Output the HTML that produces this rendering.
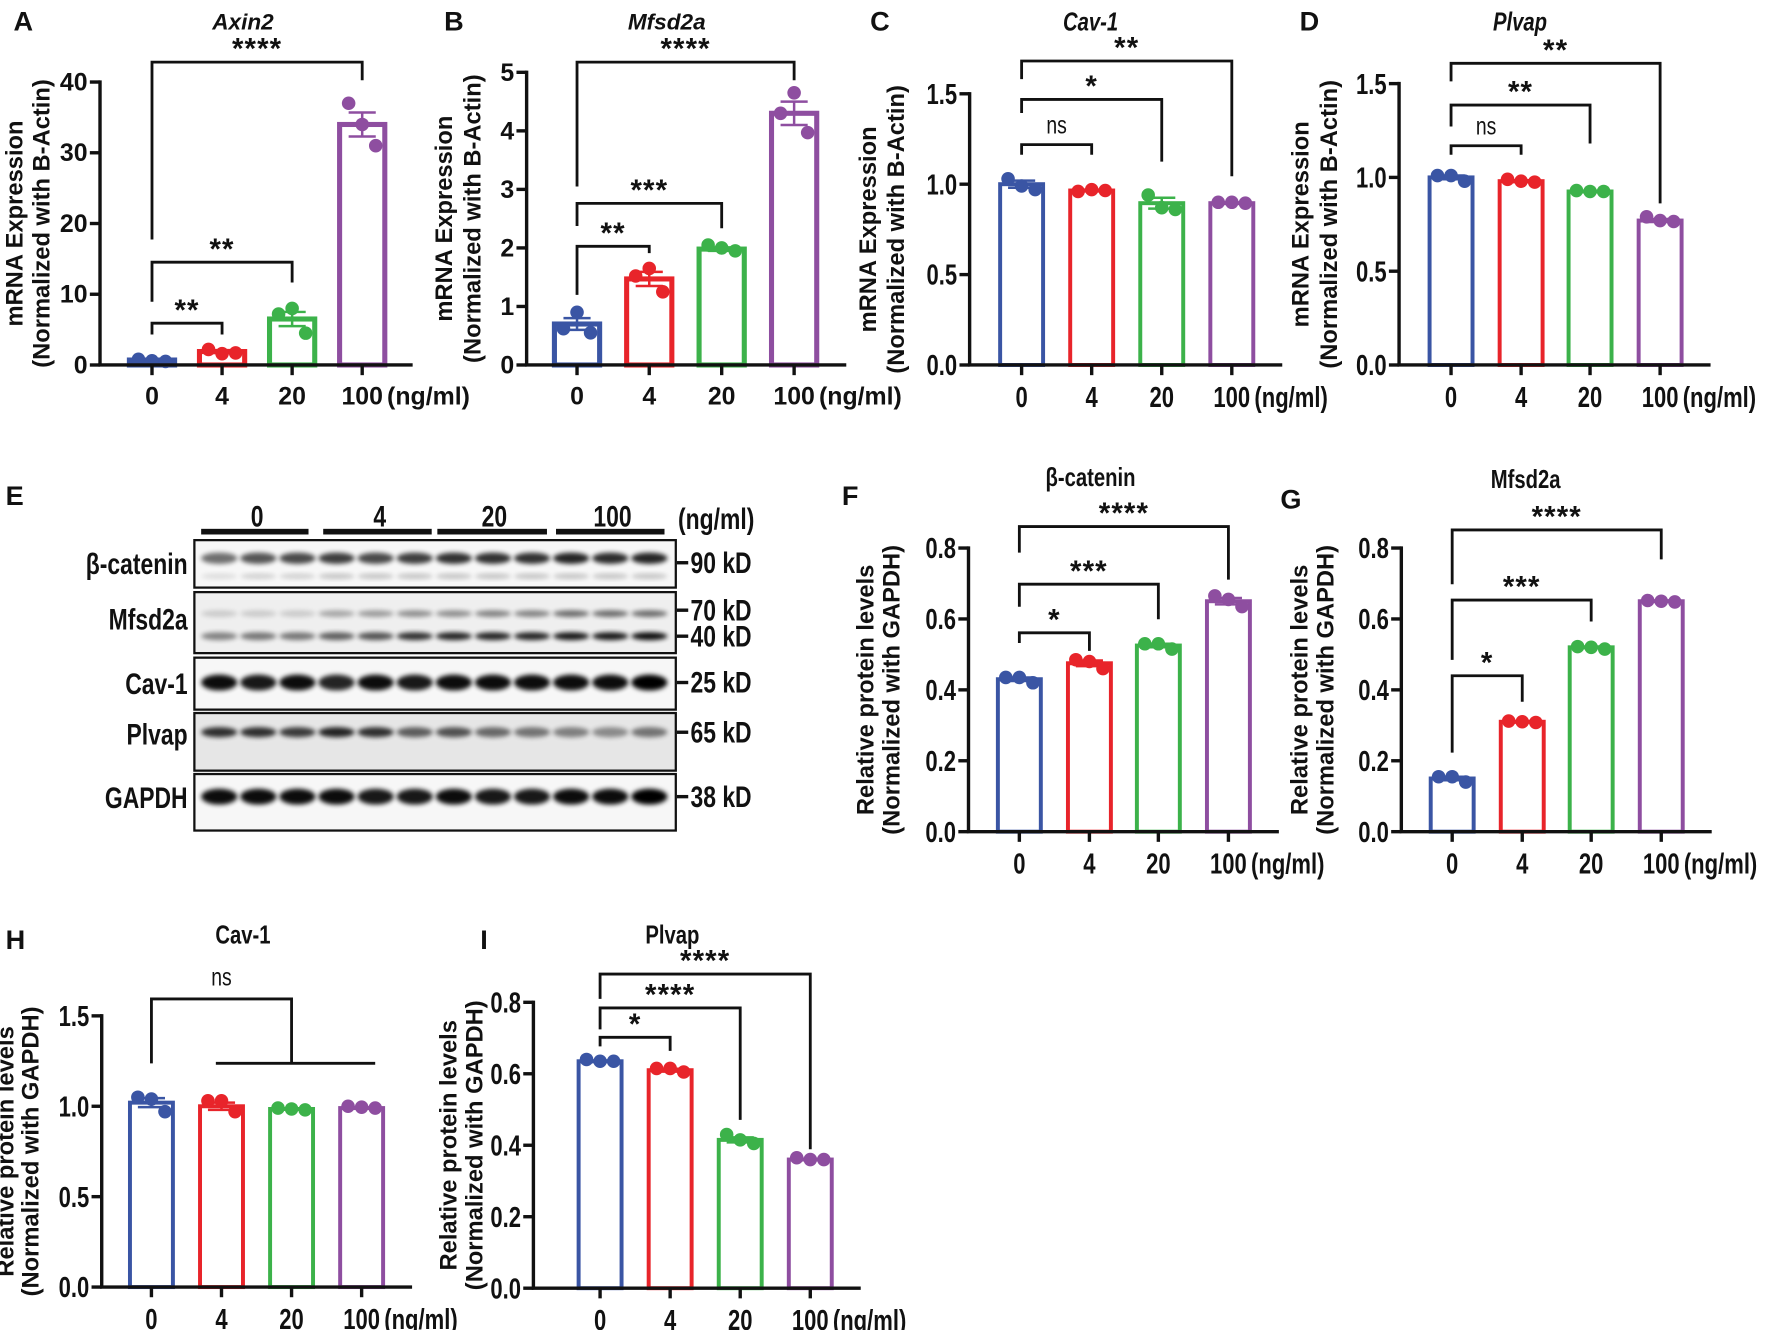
<!DOCTYPE html>
<html><head><meta charset="utf-8"><style>
html,body{margin:0;padding:0;background:#fff;}
svg{display:block;}
text{font-family:"Liberation Sans",Arial,sans-serif;fill:#111;}
</style></head><body>
<svg id="fig" xmlns="http://www.w3.org/2000/svg" width="1772" height="1330" viewBox="0 0 1568 1177" preserveAspectRatio="none">
<defs><filter id="blur" x="-20%" y="-50%" width="140%" height="200%"><feGaussianBlur stdDeviation="2.2"/></filter></defs>
</svg>
<script>
const NS='http://www.w3.org/2000/svg';
const svg=document.getElementById('fig');
const catLabels=['0','4','20','100'];
const colors=['#3a55a4','#e8242a','#3cb24a','#8e4ea0'];
// Panel A (Axin2)
const aMeans=[0.7,1.9,6.5,34];
const aPts=[[0.8,0.6,0.5],[2.2,1.6,1.7],[7.2,8,4.5],[37,34,31]];
const aErr=[0.1,0.2,1.0,1.7];
const aTicks=[0,10,20,30,40];
// Panel B (Mfsd2a mRNA)
const bMeans=[0.7,1.47,1.98,4.3];
const bPts=[[0.62,0.9,0.55],[1.52,1.65,1.25],[2.05,2.0,1.95],[4.3,4.65,3.97]];
const bErr=[0.1,0.12,0.03,0.2];
const bTicks=[0,1,2,3,4,5];
// Panel C (Cav-1 mRNA)
const cMeans=[1.0,0.965,0.895,0.895];
const cPts=[[1.03,0.99,0.97],[0.96,0.97,0.965],[0.94,0.87,0.86],[0.9,0.9,0.895]];
const cErr=[0.02,0.005,0.03,0.003];
const cTicks=[0,0.5,1.0,1.5];
// Panel D (Plvap mRNA)
const dMeans=[1.0,0.98,0.925,0.77];
const dPts=[[1.01,1.01,0.98],[0.99,0.98,0.975],[0.93,0.925,0.925],[0.79,0.77,0.765]];
const dErr=[0.01,0.005,0.003,0.008];
const dTicks=[0,0.5,1.0,1.5];
// Panel F (beta-catenin protein)
const fMeans=[0.43,0.475,0.525,0.65];
const fPts=[[0.435,0.435,0.42],[0.485,0.48,0.46],[0.53,0.53,0.515],[0.665,0.655,0.635]];
const fErr=[0.005,0.008,0.005,0.009];
const fTicks=[0,0.2,0.4,0.6,0.8];
// Panel G (Mfsd2a protein)
const gMeans=[0.15,0.31,0.52,0.65];
const gPts=[[0.155,0.155,0.14],[0.312,0.31,0.308],[0.522,0.52,0.515],[0.652,0.65,0.648]];
const gErr=[0.005,0.002,0.002,0.002];
const gTicks=[0,0.2,0.4,0.6,0.8];
// Panel H (Cav-1 protein)
const hMeans=[1.02,1.0,0.985,0.99];
const hPts=[[1.05,1.04,0.97],[1.03,1.03,0.97],[0.99,0.985,0.98],[1.0,0.995,0.99]];
const hErr=[0.025,0.02,0.004,0.003];
const hTicks=[0,0.5,1.0,1.5];
// Panel I (Plvap protein)
const iMeans=[0.635,0.61,0.415,0.36];
const iPts=[[0.64,0.635,0.635],[0.615,0.615,0.605],[0.43,0.415,0.405],[0.365,0.36,0.36]];
const iErr=[0.002,0.004,0.007,0.002];
const iTicks=[0,0.2,0.4,0.6,0.8];

function el(tag,attrs,parent){const e=document.createElementNS(NS,tag);for(const k in attrs)e.setAttribute(k,attrs[k]);(parent||svg).appendChild(e);return e;}
function txt(s,attrs,parent){const t=el('text',attrs,parent);t.textContent=s;return t;}
function narrow(t,x){t.setAttribute('transform','translate('+x+' 0) scale(0.78 1) translate('+(-x)+' 0)');}

const panels=[
 {id:'a',letter:'A',lx:12,ly:27,title:'Axin2',tx:215,ty:26,italic:true,ax:88.5,y0:323,yTop:72.6,tickLabels:['0','10','20','30','40'],ticks:aTicks,means:aMeans,pts:aPts,err:aErr,cats:[134.5,196.5,258.5,320.5],bw:40,sw:4.5,ylab:['mRNA Expression','(Normalized with B-Actin)'],ylx:[20,44],narrow:false,
  br:[[0,1,286,296,296,'**'],[0,2,232,267,250,'**'],[0,3,55,212,71,'****']]},
 {id:'b',letter:'B',lx:393,ly:27,title:'Mfsd2a',tx:590,ty:26,italic:true,ax:466,y0:323,yTop:64,tickLabels:['0','1','2','3','4','5'],ticks:bTicks,means:bMeans,pts:bPts,err:bErr,cats:[510.6,574.5,638.6,702.7],bw:40,sw:4.5,ylab:['mRNA Expression','(Normalized with B-Actin)'],ylx:[400,425],narrow:false,
  br:[[0,1,218,261,224,'**'],[0,2,180,200,202,'***'],[0,3,55,165,71,'****']]},
 {id:'c',letter:'C',lx:770,ly:27,title:'Cav-1',tx:965,ty:26,italic:true,ax:858,y0:323,yTop:83,tickLabels:['0.0','0.5','1.0','1.5'],ticks:cTicks,means:cMeans,pts:cPts,err:cErr,cats:[904,966,1028,1090],bw:38,sw:3.5,ylab:['mRNA Expression','(Normalized with B-Actin)'],ylx:[775,800],narrow:true,
  br:[[0,3,54,70,156,'**'],[0,2,88,100,143,'*'],[0,1,128,137,137,'ns']]},
 {id:'d',letter:'D',lx:1150,ly:27,title:'Plvap',tx:1345,ty:26,italic:true,ax:1238,y0:323,yTop:74,tickLabels:['0.0','0.5','1.0','1.5'],ticks:dTicks,means:dMeans,pts:dPts,err:dErr,cats:[1284,1346,1407,1469],bw:38,sw:3.5,ylab:['mRNA Expression','(Normalized with B-Actin)'],ylx:[1158,1183],narrow:true,
  br:[[0,3,56,72,180,'**'],[0,2,93,112,127,'**'],[0,1,129,137,137,'ns']]},
 {id:'f',letter:'F',lx:745,ly:447,title:'β-catenin',tx:965,ty:429,italic:false,ax:857,y0:736,yTop:485,tickLabels:['0.0','0.2','0.4','0.6','0.8'],ticks:fTicks,means:fMeans,pts:fPts,err:fErr,cats:[902,964,1025,1087],bw:38,sw:3.5,ylab:['Relative protein levels','(Normalized with GAPDH)'],ylx:[773,796],narrow:true,
  br:[[0,3,466,489,513,'****'],[0,2,517,537,548,'***'],[0,1,560,569,576,'*']]},
 {id:'g',letter:'G',lx:1133,ly:450,title:'Mfsd2a',tx:1350,ty:431,italic:false,ax:1240,y0:736,yTop:485,tickLabels:['0.0','0.2','0.4','0.6','0.8'],ticks:gTicks,means:gMeans,pts:gPts,err:gErr,cats:[1285,1347,1408,1470],bw:38,sw:3.5,ylab:['Relative protein levels','(Normalized with GAPDH)'],ylx:[1157,1180],narrow:true,
  br:[[0,3,469,517,495,'****'],[0,2,531,584,550,'***'],[0,1,598,666,621,'*']]},
 {id:'h',letter:'H',lx:5,ly:840,title:'Cav-1',tx:215,ty:834,italic:false,ax:90,y0:1139,yTop:899,tickLabels:['0.0','0.5','1.0','1.5'],ticks:hTicks,means:hMeans,pts:hPts,err:hErr,cats:[134,196,258,320],bw:38,sw:3.5,ylab:['Relative protein levels','(Normalized with GAPDH)'],ylx:[12,34],narrow:true,
  br:[]},
 {id:'i',letter:'I',lx:425,ly:840,title:'Plvap',tx:595,ty:834,italic:false,ax:472,y0:1140,yTop:887,tickLabels:['0.0','0.2','0.4','0.6','0.8'],ticks:iTicks,means:iMeans,pts:iPts,err:iErr,cats:[531,593,655,717],bw:38,sw:3.5,ylab:['Relative protein levels','(Normalized with GAPDH)'],ylx:[404,427],narrow:true,
  br:[[0,3,862,884,1017,'****'],[0,2,892,911,991,'****'],[0,1,918,926,930,'*']]}
];

panels.forEach(p=>{
  const g=el('g',{});
  
  
  const maxV=p.ticks[p.ticks.length-1];
  const y=v=>p.y0-(v/maxV)*(p.y0-p.yTop);
  const fs=p.narrow?25:22;
  const lt=txt(p.letter,{x:p.lx,y:p.ly,'font-size':24,'font-weight':'bold'},g);
  
  
  const tt=txt(p.title,{x:p.tx,y:p.ty+(p.narrow?1:0),'font-size':p.narrow?23:20,'font-weight':'bold','font-style':p.italic?'italic':'normal','text-anchor':'middle'},g);
  
  
  if(p.narrow) narrow(tt,p.tx);
  const yc=(p.y0+p.yTop)/2;
  p.ylab.forEach((s,k)=>{
    const t=txt(s,{x:p.ylx[k],y:yc,'font-size':p.narrow?21:21,'font-weight':'bold','text-anchor':'middle',transform:'rotate(-90 '+p.ylx[k]+' '+yc+')'},g);
    
    
  });
  p.means.forEach((m,i)=>{
    const cx=p.cats[i];
    const r=el('rect',{x:cx-p.bw/2,y:y(m),width:p.bw,height:p.y0-y(m),fill:'#fff',stroke:colors[i],'stroke-width':p.sw},g);
    
    
  });
  p.means.forEach((m,i)=>{
    const cx=p.cats[i];
    const e=el('path',{d:`M${cx},${y(m-p.err[i])}V${y(m+p.err[i])}M${cx-12},${y(m+p.err[i])}H${cx+12}M${cx-12},${y(m-p.err[i])}H${cx+12}`,stroke:colors[i],'stroke-width':2.2,fill:'none'},g);
    
    
  });
  p.pts.forEach((arr,i)=>{
    arr.forEach((v,k)=>{
      const c=el('circle',{cx:p.cats[i]+(k-1)*12,cy:y(v),r:6,fill:colors[i]},g);
      
      
    });
  });
  const ya=el('line',{x1:p.ax,y1:p.yTop-1.5,x2:p.ax,y2:p.y0,stroke:'#111','stroke-width':3},g);
  
  
  const xEnd=p.cats[3]+(p.cats[3]-p.cats[2])*0.72;
  const xa=el('line',{x1:p.ax-1.5,y1:p.y0,x2:xEnd,y2:p.y0,stroke:'#111','stroke-width':3},g);
  
  
  p.ticks.forEach((v,k)=>{
    el('line',{x1:p.ax-9,y1:y(v),x2:p.ax,y2:y(v),stroke:'#111','stroke-width':3},g);
    const t=txt(p.tickLabels[k],{x:p.ax-11,y:y(v)+(p.narrow?9:7.5),'font-size':fs,'font-weight':'bold','text-anchor':'end'},g);
    
    
    if(p.narrow) narrow(t,p.ax-11);
  });
  p.cats.forEach((cx,i)=>{
    el('line',{x1:cx,y1:p.y0,x2:cx,y2:p.y0+9,stroke:'#111','stroke-width':3},g);
    const t=txt(catLabels[i],{x:cx,y:p.y0+(p.narrow?37:35),'font-size':fs,'font-weight':'bold','text-anchor':'middle'},g);
    
    
    if(p.narrow) narrow(t,cx);
  });
  const ux=p.cats[3]+(p.narrow?20:22);
  const u=txt('(ng/ml)',{x:ux,y:p.y0+(p.narrow?37:35),'font-size':fs,'font-weight':'bold'},g);
  
  
  if(p.narrow) narrow(u,ux);
  p.br.forEach(b=>{
    const x1=p.cats[b[0]],x2=p.cats[b[1]];
    const pth=el('path',{d:`M${x1},${b[3]}V${b[2]}H${x2}V${b[4]}`,stroke:'#111','stroke-width':2.5,fill:'none'},g);
    
    
    const ns=b[5]==='ns';
    const t=txt(b[5],{x:(x1+x2)/2,y:ns?b[2]-10:b[2]-3,'font-size':ns?22:26,'font-weight':ns?'normal':'bold','text-anchor':'middle','letter-spacing':ns?0:1},g);
    
    
    if(ns) narrow(t,(x1+x2)/2);
  });
  if(p.id==='h'){
    const c=p.cats;
    const pth=el('path',{d:`M${c[0]},${941}V884H${c[2]}V941M${c[1]-5},941H${c[3]+12}`,stroke:'#111','stroke-width':2.5,fill:'none'},g);
    
    
    const t=txt('ns',{x:(c[0]+c[2])/2,y:872,'font-size':22,'text-anchor':'middle'},g);
    
    
    narrow(t,(c[0]+c[2])/2);
  }
});

// Western blot panel E
const wbRows=['β-catenin','Mfsd2a','Cav-1','Plvap','GAPDH'];
const wbBoxes=[[478,520],[524,578],[582,628],[631,682],[685,735]];
const wbLabelY=[508,557,614,659,715];
const kdLabels=['90 kD','70 kD','40 kD','25 kD','65 kD','38 kD'];
const kdY=[498,540,563,604,648,705];
const groupLabels=['0','4','20','100'];
const groupX=[[178,273],[286,382],[387,484],[492,588]];
const laneBands=[
 [494,[0.55,0.65,0.7,0.75,0.7,0.75,0.8,0.8,0.8,0.85,0.82,0.85],8],
 [510,[0.1,0.15,0.15,0.2,0.2,0.2,0.2,0.2,0.2,0.2,0.2,0.2],3],
 [543,[0.15,0.15,0.15,0.3,0.35,0.4,0.4,0.45,0.45,0.55,0.55,0.55],4],
 [563,[0.45,0.5,0.5,0.6,0.65,0.8,0.85,0.85,0.85,0.9,0.9,0.95],5],
 [604,[0.95,0.9,0.95,0.85,0.95,0.9,0.95,0.95,0.95,0.95,0.95,1],12],
 [648,[0.8,0.8,0.75,0.85,0.8,0.6,0.65,0.55,0.5,0.45,0.4,0.5],7],
 [705,[0.95,0.95,0.95,0.95,0.9,0.9,0.95,0.9,0.9,0.95,0.95,1],12]
];
(function(){
  const g=el('g',{});
  
  
  const lt=txt('E',{x:5,y:447,'font-size':24,'font-weight':'bold'},g);
  
  
  groupLabels.forEach((s,i)=>{
    const [a,b]=groupX[i];
    const r=el('rect',{x:a,y:468,width:b-a,height:5,fill:'#111'},g);
    
    
    const t=txt(s,{x:(a+b)/2+2,y:466,'font-size':26,'font-weight':'bold','text-anchor':'middle'},g);
    
    
    narrow(t,(a+b)/2+2);
  });
  const u=txt('(ng/ml)',{x:600,y:468,'font-size':26,'font-weight':'bold'},g);
  
  
  narrow(u,600);
  wbBoxes.forEach((bx,i)=>{
    const bg=el('rect',{x:172,y:bx[0],width:426,height:bx[1]-bx[0],fill:i===3?'#e6e6e6':(i===1?'#efefef':'#f7f7f7'),stroke:'#111','stroke-width':2},g);
    
    
    const t=txt(wbRows[i],{x:166,y:wbLabelY[i],'font-size':26,'font-weight':'bold','text-anchor':'end'},g);
    
    
    narrow(t,166);
  });
  laneBands.forEach(row=>{
    row[1].forEach((v,k)=>{
      const cx=194+k*34.6;
      const e=el('ellipse',{cx:cx,cy:row[0],rx:16,ry:row[2]/2+1,fill:'#000',opacity:v,filter:'url(#blur)'},g);
      
      
    });
  });
  kdLabels.forEach((s,i)=>{
    el('line',{x1:599,y1:kdY[i],x2:609,y2:kdY[i],stroke:'#111','stroke-width':3},g);
    const t=txt(s,{x:611,y:kdY[i]+9,'font-size':26,'font-weight':'bold'},g);
    
    
    narrow(t,611);
  });
})();
</script>
</body></html>
